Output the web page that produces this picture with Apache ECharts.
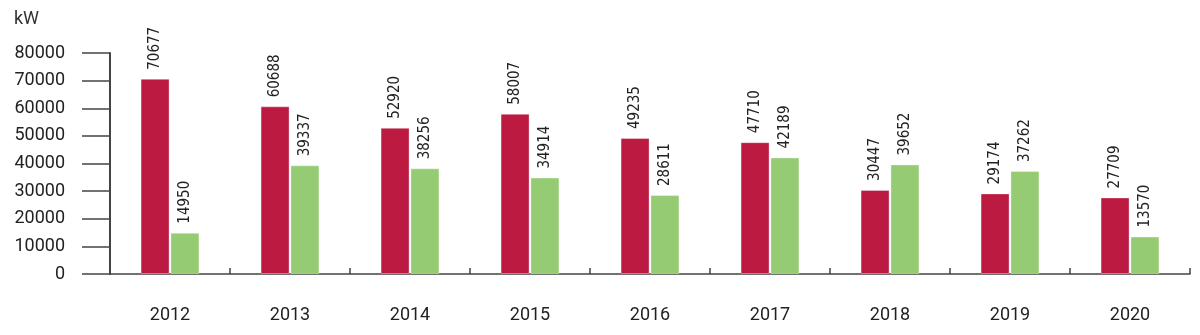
<!DOCTYPE html>
<html><head><meta charset="utf-8">
<script src="https://cdn.jsdelivr.net/npm/echarts@6/dist/echarts.min.js"></script>
<style>html,body{margin:0;padding:0;background:#fff}#c{width:1200px;height:335px}</style>
</head><body><div id="c"></div>
<script>
const categories = ['2012','2013','2014','2015','2016','2017','2018','2019','2020'];
const seriesRed = [70677, 60688, 52920, 58007, 49235, 47710, 30447, 29174, 27709];
const seriesGreen = [14950, 39337, 38256, 34914, 28611, 42189, 39652, 37262, 13570];
const yTicks = {min: 0, max: 80000, interval: 10000};
const FONT = 'Roboto';
const NARROW = '"DejaVu Sans Condensed", sans-serif';
const AXIS_COLOR = '#444';
const chart = echarts.init(document.getElementById('c'));
const label = {
  show: true, position: 'top', rotate: 90, align: 'left', verticalAlign: 'middle',
  distance: 9, fontFamily: NARROW, fontSize: 15, color: '#222'
};
chart.setOption({
  animation: false,
  grid: {left: 110, right: 10, top: 53, bottom: 61},
  graphic: [{type: 'text', left: 14, top: 10, style: {text: 'kW', font: '18px ' + FONT, fill: '#333'}}],
  xAxis: {
    type: 'category', data: categories,
    axisLine: {lineStyle: {color: AXIS_COLOR, width: 1.5}},
    axisTick: {show: true, inside: true, length: 6, lineStyle: {color: AXIS_COLOR, width: 1.5}},
    axisLabel: {margin: 32, fontFamily: FONT, fontSize: 18, color: '#222'}
  },
  yAxis: {
    type: 'value', min: yTicks.min, max: yTicks.max, interval: yTicks.interval,
    splitLine: {show: false},
    axisLine: {show: true, onZero: false, lineStyle: {color: AXIS_COLOR, width: 2}},
    axisTick: {show: true, length: 28, lineStyle: {color: AXIS_COLOR, width: 1.5}},
    axisLabel: {margin: 45, fontFamily: FONT, fontSize: 18, color: '#222',
      formatter: v => String(v)}
  },
  series: [
    {type: 'bar', data: seriesRed, barWidth: 29, barGap: '3%',
     itemStyle: {color: '#BC1A41', borderColor: 'rgba(255,255,255,0.35)', borderWidth: 1}, label},
    {type: 'bar', data: seriesGreen, barWidth: 29, barGap: '3%',
     itemStyle: {color: '#95CB72', borderColor: 'rgba(255,255,255,0.35)', borderWidth: 1}, label}
  ]
});
</script></body></html>
